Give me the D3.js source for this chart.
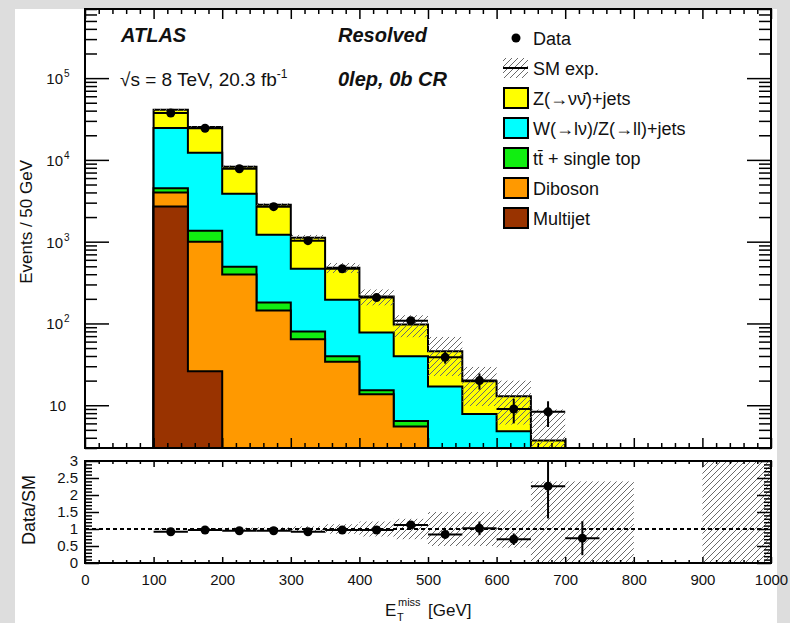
<!DOCTYPE html>
<html>
<head>
<meta charset="utf-8">
<script src="https://cdn.jsdelivr.net/npm/d3@7"></script>
<style>
  html, body { margin: 0; padding: 0; background: #dddddd; }
  svg { display: block; font-family: "Liberation Sans", Arial, Helvetica, sans-serif; }
</style>
</head>
<body>
<svg id="chart" width="790" height="623"></svg>
<script>
// ---- data: E_T^miss distribution, 0lep 0b control region (events / 50 GeV) ----
const binEdges   = [100, 150, 200, 250, 300, 350, 400, 450, 500, 550, 600, 650, 700];
const multijet   = [2700, 26, 0.3, 0.1, 0, 0, 0, 0, 0, 0, 0, 0];
const diboson    = [1300, 974, 396, 144, 64, 34, 13.6, 5.5, 1.5, 0.8, 0.4, 0.2];
const ttbarTop   = [500, 360, 99, 36, 16, 5.6, 1.6, 0.9, 1.0, 0.4, 0.2, 0.1];
const wzJets     = [20100, 10840, 3355, 1035, 388, 156, 62.4, 33.2, 14.5, 6.6, 4.2, 2.2];
const znnJets    = [16300, 13000, 4370, 1605, 652, 286, 136, 57.4, 28.6, 11.8, 8.1, 1.2];
const dataCounts = [37400, 24400, 7800, 2680, 1030, 467, 207, 108, 38.5, 20, 9.0, 8.3];

// relative SM uncertainty per 50 GeV bin, 100-1000 GeV (null: no band)
const bandEdges  = [100, 150, 200, 250, 300, 350, 400, 450, 500, 550, 600, 650, 700, 750, 800, 850, 900, 950, 1000];
const smRelUnc   = [0.03, 0.03, 0.04, 0.05, 0.08, 0.14, 0.22, 0.3, 0.5, 0.5, 0.55, 1.4, 1.4, 1.4, null, null, 5, 5];

// Data / SM ratio
const ratioCenters = [125, 175, 225, 275, 325, 375, 425, 475, 525, 575, 625, 675, 725];
const ratioValues  = [0.92, 0.97, 0.95, 0.95, 0.92, 0.97, 0.97, 1.12, 0.84, 1.02, 0.70, 2.26, 0.73];
const ratioErrors  = [0.01, 0.01, 0.015, 0.02, 0.03, 0.05, 0.07, 0.1, 0.12, 0.2, 0.17, 0.95, 0.5];

// axis ticks / labels
const xTickValues     = [0, 100, 200, 300, 400, 500, 600, 700, 800, 900, 1000];
const logDecades      = [1, 2, 3, 4, 5];
const ratioTickValues = [0, 0.5, 1, 1.5, 2, 2.5, 3];

const layerKeys   = ["multijet", "diboson", "ttbar", "wz", "znn"];
const layerValues = { multijet: multijet, diboson: diboson, ttbar: ttbarTop, wz: wzJets, znn: znnJets };
const layerColors = { multijet: "#993300", diboson: "#ff9900", ttbar: "#11ee11", wz: "#00ffff", znn: "#ffff00" };

// ---- layout ----
const svg = d3.select("#chart");
const P = { left: 85, right: 771, top: 9, bottom: 448 };
const R = { top: 461, bottom: 563 };
const ink = "#111";

svg.append("rect").attr("x", 15).attr("y", 9).attr("width", 762).attr("height", 614).attr("fill", "#fff");

const x  = d3.scaleLinear().domain([0, 1000]).range([P.left, P.right]);
const y  = d3.scaleLog().domain([3, 7e5]).range([P.bottom, P.top]).clamp(true);
const yr = d3.scaleLinear().domain([0, 3]).range([R.bottom, R.top]).clamp(true);
const ySafe = v => y(Math.max(v, 1e-3));

const defs = svg.append("defs");
const pat = defs.append("pattern").attr("id", "hatch").attr("patternUnits", "userSpaceOnUse")
  .attr("width", 6).attr("height", 6);
pat.append("path").attr("d", "M-1,1 l2,-2 M0,6 l6,-6 M5,7 l2,-2")
  .attr("stroke", "#6a6a6a").attr("stroke-width", 1);
defs.append("clipPath").attr("id", "clipMain").append("rect")
  .attr("x", P.left).attr("y", P.top).attr("width", P.right - P.left).attr("height", P.bottom - P.top);
defs.append("clipPath").attr("id", "clipRatio").append("rect")
  .attr("x", P.left).attr("y", R.top).attr("width", P.right - P.left).attr("height", R.bottom - R.top);

// ---- stacked histogram ----
const rows = binEdges.slice(0, -1).map((b, i) => {
  const r = { bin: b };
  layerKeys.forEach(k => r[k] = layerValues[k][i]);
  return r;
});
const stacked = d3.stack().keys(layerKeys)(rows);

function stepPath(tops) {
  let p = `M${x(binEdges[0])},${P.bottom}`;
  tops.forEach((t, i) => {
    const yy = ySafe(t);
    p += `L${x(binEdges[i])},${yy}L${x(binEdges[i + 1])},${yy}`;
  });
  p += `L${x(binEdges[binEdges.length - 1])},${P.bottom}Z`;
  return p;
}

const main = svg.append("g").attr("clip-path", "url(#clipMain)");
stacked.slice().reverse().forEach(layer => {
  main.append("path")
    .attr("d", stepPath(layer.map(d => d[1])))
    .attr("fill", layerColors[layer.key])
    .attr("stroke", "#000").attr("stroke-width", 2).attr("stroke-linejoin", "miter");
});

// SM uncertainty band on the stack
const totals = stacked[stacked.length - 1].map(d => d[1]);
main.selectAll("rect.unc").data(totals).join("rect")
  .attr("class", "unc")
  .attr("x", (d, i) => x(binEdges[i]))
  .attr("width", (d, i) => x(binEdges[i + 1]) - x(binEdges[i]))
  .attr("y", (d, i) => ySafe(d * (1 + smRelUnc[i])))
  .attr("height", (d, i) => ySafe(d * (1 - smRelUnc[i])) - ySafe(d * (1 + smRelUnc[i])))
  .attr("fill", "url(#hatch)");

// data points with Poisson errors
const dataG = main.append("g");
dataCounts.forEach((n, i) => {
  const c = (binEdges[i] + binEdges[i + 1]) / 2;
  const e = Math.sqrt(n);
  dataG.append("line").attr("x1", x(binEdges[i])).attr("x2", x(binEdges[i + 1]))
    .attr("y1", ySafe(n)).attr("y2", ySafe(n)).attr("stroke", "#000").attr("stroke-width", 2);
  dataG.append("line").attr("x1", x(c)).attr("x2", x(c))
    .attr("y1", ySafe(n + e)).attr("y2", ySafe(n - e)).attr("stroke", "#000").attr("stroke-width", 2);
  dataG.append("circle").attr("cx", x(c)).attr("cy", ySafe(n)).attr("r", 4.5).attr("fill", "#000");
});

// ---- ratio panel ----
const ratio = svg.append("g").attr("clip-path", "url(#clipRatio)");
smRelUnc.forEach((u, i) => {
  if (u === null) return;
  ratio.append("rect")
    .attr("x", x(bandEdges[i])).attr("width", x(bandEdges[i + 1]) - x(bandEdges[i]))
    .attr("y", yr(1 + u)).attr("height", yr(1 - u) - yr(1 + u))
    .attr("fill", "url(#hatch)");
});
ratio.append("line").attr("x1", P.left).attr("x2", P.right).attr("y1", yr(1)).attr("y2", yr(1))
  .attr("stroke", "#000").attr("stroke-width", 2).attr("stroke-dasharray", "4,3");
ratioCenters.forEach((c, i) => {
  const v = ratioValues[i], e = ratioErrors[i];
  ratio.append("line").attr("x1", x(c - 25)).attr("x2", x(c + 25))
    .attr("y1", yr(v)).attr("y2", yr(v)).attr("stroke", "#000").attr("stroke-width", 2);
  ratio.append("line").attr("x1", x(c)).attr("x2", x(c))
    .attr("y1", yr(v + e)).attr("y2", yr(v - e)).attr("stroke", "#000").attr("stroke-width", 2);
  ratio.append("circle").attr("cx", x(c)).attr("cy", yr(v)).attr("r", 4.5).attr("fill", "#000");
});

// ---- axes (ticks drawn inward, ROOT style) ----
const xMinor = d3.range(0, 1001, 20).filter(v => v % 100 !== 0);
const logMinor = [];
for (let e = 0; e <= 5; e++) for (let m = 2; m <= 9; m++) {
  const v = m * Math.pow(10, e);
  if (v >= 3 && v <= 7e5) logMinor.push(v);
}
const logMajor = logDecades.map(e => Math.pow(10, e));
const ratioMinor = d3.range(0, 3.001, 0.1).map(v => +v.toFixed(1)).filter(v => Math.round(v * 10) % 5 !== 0);

function addAxis(axis, tx, ty) {
  const g = svg.append("g").attr("transform", `translate(${tx},${ty})`).call(axis);
  g.select(".domain").remove();
  g.selectAll(".tick line").attr("stroke", "#000").attr("stroke-width", 1.5);
  g.selectAll(".tick text").attr("fill", ink).attr("font-size", 15);
  return g;
}
// main panel
addAxis(d3.axisBottom(x).tickValues(xTickValues).tickSize(-10).tickFormat(""), 0, P.bottom);
addAxis(d3.axisBottom(x).tickValues(xMinor).tickSize(-5).tickFormat(""), 0, P.bottom);
addAxis(d3.axisTop(x).tickValues(xTickValues).tickSize(-10).tickFormat(""), 0, P.top);
addAxis(d3.axisTop(x).tickValues(xMinor).tickSize(-5).tickFormat(""), 0, P.top);
addAxis(d3.axisLeft(y).tickValues(logMajor).tickSize(-24).tickFormat(""), P.left, 0);
addAxis(d3.axisLeft(y).tickValues(logMinor).tickSize(-12).tickFormat(""), P.left, 0);
addAxis(d3.axisRight(y).tickValues(logMajor).tickSize(-24).tickFormat(""), P.right, 0);
addAxis(d3.axisRight(y).tickValues(logMinor).tickSize(-12).tickFormat(""), P.right, 0);
// ratio panel
addAxis(d3.axisBottom(x).tickValues(xTickValues).tickSize(-6).tickPadding(11).tickFormat(d3.format("d")), 0, R.bottom);
addAxis(d3.axisBottom(x).tickValues(xMinor).tickSize(-3).tickFormat(""), 0, R.bottom);
addAxis(d3.axisTop(x).tickValues(xTickValues).tickSize(-6).tickFormat(""), 0, R.top);
addAxis(d3.axisTop(x).tickValues(xMinor).tickSize(-3).tickFormat(""), 0, R.top);
addAxis(d3.axisLeft(yr).tickValues(ratioTickValues).tickSize(-14).tickPadding(7).tickFormat(d3.format("~g")), P.left, 0);
addAxis(d3.axisLeft(yr).tickValues(ratioMinor).tickSize(-7).tickFormat(""), P.left, 0);
addAxis(d3.axisRight(yr).tickValues(ratioTickValues).tickSize(-14).tickFormat(""), P.right, 0);
addAxis(d3.axisRight(yr).tickValues(ratioMinor).tickSize(-7).tickFormat(""), P.right, 0);

// decade labels 10^n
logDecades.forEach(e => {
  const t = svg.append("text").attr("x", e === 1 ? 66 : 63).attr("y", y(Math.pow(10, e)) + 6)
    .attr("text-anchor", "end").attr("font-size", 15).attr("fill", ink);
  t.append("tspan").text("10");
  if (e > 1) {
    svg.append("text").attr("x", 64).attr("y", y(Math.pow(10, e)) - 1)
      .attr("font-size", 10).attr("fill", ink).text(e);
  }
});

// frames
svg.append("rect").attr("x", P.left).attr("y", P.top).attr("width", P.right - P.left).attr("height", P.bottom - P.top)
  .attr("fill", "none").attr("stroke", "#000").attr("stroke-width", 2);
svg.append("rect").attr("x", P.left).attr("y", R.top).attr("width", P.right - P.left).attr("height", R.bottom - R.top)
  .attr("fill", "none").attr("stroke", "#000").attr("stroke-width", 2);

// ---- axis titles ----
svg.append("text").attr("transform", "translate(32,160) rotate(-90)").attr("text-anchor", "end")
  .attr("font-size", 17).attr("fill", ink).text("Events / 50 GeV");
svg.append("text").attr("transform", "translate(35,510) rotate(-90)").attr("text-anchor", "middle")
  .attr("font-size", 18).attr("fill", ink).text("Data/SM");
svg.append("text").attr("x", 385).attr("y", 616).attr("font-size", 17).attr("fill", ink).text("E");
svg.append("text").attr("x", 397).attr("y", 621).attr("font-size", 11).attr("fill", ink).text("T");
svg.append("text").attr("x", 398).attr("y", 606).attr("font-size", 11).attr("fill", ink).text("miss");
svg.append("text").attr("x", 428).attr("y", 616).attr("font-size", 17).attr("fill", ink).text("[GeV]");

// ---- labels ----
const bi = { "font-weight": "bold", "font-style": "italic", "font-size": 20 };
function label(txt, x0, y0, attrs) {
  const t = svg.append("text").attr("x", x0).attr("y", y0).attr("fill", ink).text(txt);
  Object.entries(attrs).forEach(([k, v]) => t.attr(k, v));
  return t;
}
label("ATLAS", 121, 42, bi);
label("Resolved", 338, 42, bi);
label("0lep, 0b CR", 338, 86, bi);
const lumi = svg.append("text").attr("x", 120).attr("y", 86).attr("font-size", 19).attr("fill", ink);
lumi.append("tspan").text("\u221As = 8 TeV, 20.3 fb");
lumi.append("tspan").attr("font-size", 12).attr("dy", -8).text("-1");

// ---- legend ----
const legendLabels = ["Data", "SM exp.", "Z(\u2192\u03BD\u03BD\u0304)+jets", "W(\u2192l\u03BD)/Z(\u2192ll)+jets",
                      "tt\u0304 + single top", "Diboson", "Multijet"];
const legendKeys = [null, null, "znn", "wz", "ttbar", "diboson", "multijet"];
const lg = svg.append("g");
legendLabels.forEach((lab, i) => {
  const cy = 38 + i * 30;
  if (i === 0) {
    lg.append("circle").attr("cx", 516).attr("cy", cy).attr("r", 4.5).attr("fill", "#000");
  } else if (i === 1) {
    lg.append("rect").attr("x", 503).attr("y", cy - 10).attr("width", 25).attr("height", 20).attr("fill", "url(#hatch)");
    lg.append("line").attr("x1", 503).attr("x2", 528).attr("y1", cy).attr("y2", cy).attr("stroke", "#000").attr("stroke-width", 2);
  } else {
    lg.append("rect").attr("x", 504).attr("y", cy - 10).attr("width", 24).attr("height", 20)
      .attr("fill", layerColors[legendKeys[i]]).attr("stroke", "#000").attr("stroke-width", 2);
  }
  lg.append("text").attr("x", 533).attr("y", cy + 6.5).attr("font-size", 18).attr("fill", ink).text(lab);
});
</script>
</body>
</html>
